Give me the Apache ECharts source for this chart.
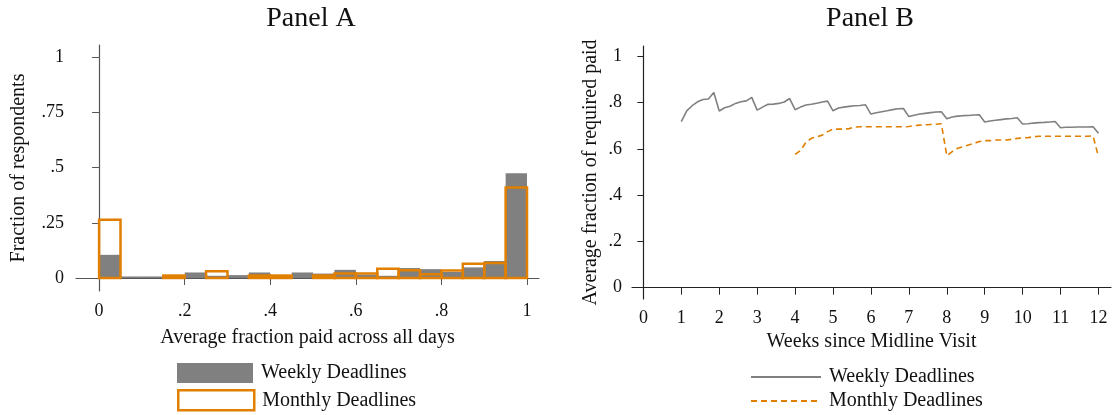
<!DOCTYPE html>
<html><head><meta charset="utf-8">
<script src="https://cdn.jsdelivr.net/npm/echarts@6/dist/echarts.min.js"></script>
<style>html,body{margin:0;padding:0;background:#fff}#c{width:1114px;height:415px}</style>
</head><body><div id="c"></div><script>
// ---- Panel A: histogram of average fraction paid ----
const binStarts = [0,0.05,0.1,0.15,0.2,0.25,0.3,0.35,0.4,0.45,0.5,0.55,0.6,0.65,0.7,0.75,0.8,0.85,0.9,0.95];
const binWidth = 0.05;
const weeklyFrac  = [0.105,0.007,0.007,0.005,0.025,0.01,0.013,0.025,0.01,0.025,0.02,0.037,0.015,0.01,0.045,0.04,0.027,0.048,0.077,0.475];
const monthlyFrac = [0.264,0,0,0.011,0,0.03,0,0.011,0.011,0,0.011,0.02,0.02,0.042,0.035,0.017,0.034,0.064,0.068,0.41];
const panelAXTicks = [0,0.2,0.4,0.6,0.8,1];
const panelAYTicks = [0,0.25,0.5,0.75,1];

// ---- Panel B: daily average fraction of required paid ----
const weeklyStartDay = 7;
const weeklyPaid = [
 0.717,0.764,0.786,0.803,0.813,0.815,0.843,
 0.763,0.777,0.784,0.796,0.803,0.807,0.822,
 0.767,0.780,0.792,0.793,0.796,0.802,0.817,
 0.769,0.780,0.789,0.792,0.797,0.802,0.806,
 0.764,0.776,0.780,0.783,0.786,0.787,0.790,
 0.750,0.756,0.760,0.764,0.769,0.773,0.774,
 0.739,0.745,0.750,0.753,0.756,0.759,0.760,
 0.730,0.737,0.741,0.743,0.744,0.746,0.747,
 0.716,0.720,0.723,0.726,0.729,0.731,0.734,
 0.707,0.708,0.711,0.713,0.714,0.716,0.718,
 0.691,0.693,0.693,0.694,0.694,0.694,0.695,
 0.667];
const monthlyStartDay = 28;
const monthlyPaid = [
 0.576,0.592,0.628,0.645,0.652,0.659,0.674,
 0.685,0.685,0.685,0.687,0.694,0.695,0.695,
 0.695,0.695,0.695,0.695,0.695,0.695,0.695,
 0.696,0.700,0.702,0.704,0.705,0.706,0.708,
 0.570,0.588,0.602,0.609,0.616,0.623,0.631,
 0.635,0.635,0.638,0.638,0.638,0.641,0.645,
 0.647,0.648,0.652,0.654,0.654,0.654,0.654,
 0.654,0.654,0.654,0.654,0.654,0.654,0.656,
 0.565];
const weekTicks = [0,1,2,3,4,5,6,7,8,9,10,11,12];
const panelBYTicks = [0,0.2,0.4,0.6,0.8,1];

const GRAY = '#808080', ORANGE = '#E07F00';
const FONT = 'Liberation Serif';
const fmtDec = v => (v === 0 ? '0' : v === 1 ? '1' : String(+v.toFixed(2)).replace(/^0/, ''));

const histData = (vals) => binStarts.map((s, i) => [s, s + binWidth, vals[i]]);
function histItem(fill, stroke, lw) {
  return function (params, api) {
    const v = api.value(2);
    if (!v) return null;
    const p0 = api.coord([api.value(0), 0]);
    const p1 = api.coord([api.value(1), v]);
    return {
      type: 'rect',
      shape: { x: p0[0], y: p1[1], width: p1[0] - p0[0], height: p0[1] - p1[1] },
      style: { fill: fill, stroke: stroke, lineWidth: lw }
    };
  };
}

const tickLabel = { fontFamily: FONT, fontSize: 18, color: '#111' };
const legText = { fontFamily: FONT, fontSize: 20, color: '#111', lineHeight: 20, padding: [0, 0, 0, 3] };
function oneLegend(name, left, top, w, extra) {
  return Object.assign({
    orient: 'vertical', left: left, top: top, itemWidth: w, itemHeight: 20, padding: 0,
    textStyle: legText, formatter: n => n.slice(2), selectedMode: false,
    data: [name]
  }, extra || {});
}

const chart = echarts.init(document.getElementById('c'), null, { renderer: 'canvas' });
chart.setOption({
  animation: false,
  backgroundColor: '#fff',
  textStyle: { fontFamily: FONT },
  graphic: [
    { type: 'text', x: 311, y: 19, style: { text: 'Panel A', font: '28px "Liberation Serif"', fill: '#111', textAlign: 'center', textVerticalAlign: 'middle' } },
    { type: 'text', x: 870, y: 19, style: { text: 'Panel B', font: '28px "Liberation Serif"', fill: '#111', textAlign: 'center', textVerticalAlign: 'middle' } }
  ],
  grid: [
    { left: 76, top: 45, width: 463, height: 246 },
    { left: 632, top: 46, width: 479, height: 253 }
  ],
  xAxis: [
    { gridIndex: 0, type: 'value', min: -0.054, max: 1.028,
      name: 'Average fraction paid across all days', nameLocation: 'middle', nameGap: 37,
      nameTextStyle: { fontFamily: FONT, fontSize: 20, color: '#111' },
      axisLine: { show: true, lineStyle: { color: '#555', width: 1.2 } },
      axisTick: { show: true, length: 7, customValues: panelAXTicks, lineStyle: { color: '#555' } },
      axisLabel: Object.assign({ margin: 11, customValues: panelAXTicks, formatter: fmtDec }, tickLabel),
      splitLine: { show: false } },
    { gridIndex: 1, type: 'value', min: -0.3, max: 12.33,
      name: 'Weeks since Midline Visit', nameLocation: 'middle', nameGap: 29,
      nameTextStyle: { fontFamily: FONT, fontSize: 20, color: '#111' },
      axisLine: { show: true, lineStyle: { color: '#222', width: 1.2 } },
      axisTick: { show: true, length: 7, customValues: weekTicks, lineStyle: { color: '#222' } },
      axisLabel: Object.assign({ margin: 10, customValues: weekTicks, formatter: v => String(v) }, tickLabel),
      splitLine: { show: false } }
  ],
  yAxis: [
    { gridIndex: 0, type: 'value', min: -0.059, max: 1.056,
      name: 'Fraction of respondents', nameLocation: 'middle', nameGap: 47,
      nameTextStyle: { fontFamily: FONT, fontSize: 20, color: '#111' },
      axisLine: { show: true, lineStyle: { color: '#555', width: 1.2 } },
      axisTick: { show: true, length: 7, customValues: panelAYTicks, lineStyle: { color: '#555' } },
      axisLabel: Object.assign({ margin: 12, customValues: panelAYTicks, formatter: fmtDec }, tickLabel),
      splitLine: { show: false } },
    { gridIndex: 1, type: 'value', min: -0.049, max: 1.044,
      name: 'Average fraction of required paid', nameLocation: 'middle', nameGap: 31,
      nameTextStyle: { fontFamily: FONT, fontSize: 20, color: '#111' },
      axisLine: { show: true, lineStyle: { color: '#222', width: 1.2 } },
      axisTick: { show: true, length: 6, customValues: panelBYTicks, lineStyle: { color: '#222' } },
      axisLabel: Object.assign({ margin: 10, customValues: panelBYTicks, formatter: fmtDec }, tickLabel),
      splitLine: { show: false } }
  ],
  legend: [
    oneLegend({ name: 'A Weekly Deadlines', icon: 'rect', itemStyle: { color: GRAY, borderWidth: 0 } }, 177, 363, 76),
    oneLegend({ name: 'A Monthly Deadlines', icon: 'rect', itemStyle: { color: '#fff', borderColor: ORANGE, borderWidth: 2.5 } }, 177, 389, 76),
    oneLegend({ name: 'B Weekly Deadlines', itemStyle: { opacity: 0 } }, 750, 367, 70, { itemStyle: { opacity: 0 } }),
    oneLegend({ name: 'B Monthly Deadlines', itemStyle: { opacity: 0 } }, 750, 391, 70, { itemStyle: { opacity: 0 } })
  ],
  series: [
    { name: 'A Weekly Deadlines', type: 'custom', xAxisIndex: 0, yAxisIndex: 0,
      itemStyle: { color: GRAY }, renderItem: histItem(GRAY, null, 0), data: histData(weeklyFrac), z: 2 },
    { name: 'A Monthly Deadlines', type: 'custom', xAxisIndex: 0, yAxisIndex: 0,
      itemStyle: { color: ORANGE }, renderItem: histItem('rgba(0,0,0,0)', ORANGE, 2.5), data: histData(monthlyFrac), z: 3 },
    { name: 'B Weekly Deadlines', type: 'line', xAxisIndex: 1, yAxisIndex: 1, symbol: 'none',
      lineStyle: { color: GRAY, width: 1.6 }, itemStyle: { color: GRAY },
      data: weeklyPaid.map((v, i) => [(weeklyStartDay + i) / 7, v]) },
    { name: 'B Monthly Deadlines', type: 'line', xAxisIndex: 1, yAxisIndex: 1, symbol: 'none',
      lineStyle: { color: ORANGE, width: 1.6, type: [6, 4] }, itemStyle: { color: ORANGE },
      data: monthlyPaid.map((v, i) => [(monthlyStartDay + i) / 7, v]) }
  ]
});
</script></body></html>
